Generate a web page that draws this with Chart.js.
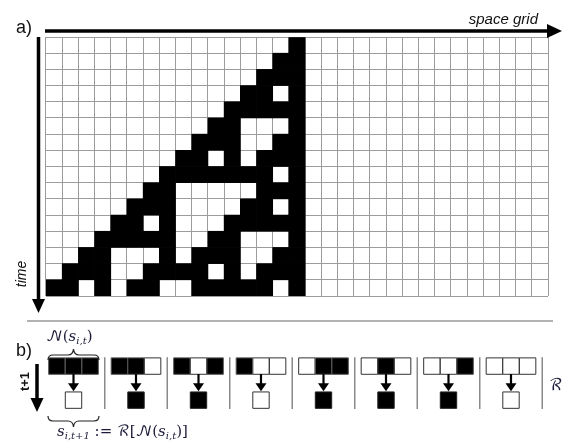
<!DOCTYPE html>
<html>
<head>
<meta charset="utf-8">
<script src="https://cdn.jsdelivr.net/npm/chart.js@4/dist/chart.umd.min.js"></script>
<style>
  body { margin: 0; background: #fff; width: 563px; height: 441px; position: relative; overflow: hidden; font-family: "Liberation Sans", Arial, sans-serif; }
  .box { position: absolute; }
  .lbl { position: absolute; color: #111; white-space: nowrap; }
  .math { font-family: "DejaVu Serif", "Liberation Serif", serif; color: #1c1c3a; font-size: 13px; }
  .math i { font-style: italic; }
  .math sub { font-size: 10px; vertical-align: -3px; }
  .cal { font-family: "DejaVu Math TeX Gyre", "DejaVu Serif", serif; font-style: normal; }
  svg { position: absolute; left: 0; top: 0; }
</style>
</head>
<body>
<div class="box" style="left:45px;top:36px;width:504px;height:261px"><canvas id="gridCanvas" width="504" height="261"></canvas></div>
<div class="box" style="left:0px;top:330px;width:563px;height:111px"><canvas id="ruleCanvas" width="563" height="111"></canvas></div>

<svg width="563" height="441">
  <!-- space arrow -->
  <line x1="45" y1="31" x2="549" y2="31" stroke="#000" stroke-width="3.5"/>
  <polygon points="547,24 562,31 547,38" fill="#000"/>
  <!-- time arrow -->
  <line x1="38.5" y1="37" x2="38.5" y2="300" stroke="#000" stroke-width="3.5"/>
  <polygon points="32,299 38.5,313 45,299" fill="#000"/>
  <!-- separator -->
  <line x1="27" y1="321" x2="553" y2="321" stroke="#999" stroke-width="1.5"/>
  <!-- t+1 arrow -->
  <line x1="37" y1="364" x2="37" y2="400" stroke="#000" stroke-width="3.5"/>
  <polygon points="30.5,398 37,412 43.5,398" fill="#000"/>
  <!-- braces -->
  <path d="M48,360 Q48,355 53,355 L68,355 Q73,355 73.5,349 Q74,355 79,355 L94,355 Q99,355 99,360" fill="none" stroke="#222" stroke-width="1.2"/>
  <path d="M48,416 Q48,421 53,421 L68,421 Q73,421 73.5,427 Q74,421 79,421 L94,421 Q99,421 99,416" fill="none" stroke="#222" stroke-width="1.2"/>
</svg>

<div class="lbl" style="left:16px;top:17px;font-size:18px">a)</div>
<div class="lbl" style="left:16px;top:340px;font-size:18px">b)</div>
<div class="lbl" style="right:25px;top:10px;font-size:15px;font-style:italic">space grid</div>
<div class="lbl" style="left:8px;top:266px;font-size:14px;font-style:italic;transform:rotate(-90deg);transform-origin:center">time</div>
<div class="lbl" style="left:15px;top:374px;font-size:13px;font-weight:bold;transform:rotate(-90deg);transform-origin:center">t+1</div>
<div class="lbl math" style="left:46px;top:327px;font-size:15px"><span class="cal">𝒩</span>(<i>s</i><sub><i>i,t</i></sub>)</div>
<div class="lbl math" style="left:57px;top:422px;font-size:15px"><i>s</i><sub><i>i,t+1</i></sub> := <span class="cal">ℛ</span>[<span class="cal">𝒩</span>(<i>s</i><sub><i>i,t</i></sub>)]</div>
<div class="lbl math" style="left:549px;top:375px;font-size:16px"><span class="cal">ℛ</span></div>

<script>
// space grid, 31 cells wide, 16 time steps (1 = black)
var nCols = 31;
var gridRows = [
    '0000000000000001000000000000000',
    '0000000000000011000000000000000',
    '0000000000000111000000000000000',
    '0000000000001101000000000000000',
    '0000000000011111000000000000000',
    '0000000000110001000000000000000',
    '0000000001110011000000000000000',
    '0000000011010111000000000000000',
    '0000000111111101000000000000000',
    '0000001100000111000000000000000',
    '0000011100001101000000000000000',
    '0000110100011111000000000000000',
    '0001111100110001000000000000000',
    '0011000101110011000000000000000',
    '0111001111010111000000000000000',
    '1101011001111101000000000000000'
];

// rule table (panel b)
var neighbourhoods = ['111', '110', '101', '100', '011', '010', '001', '000'];
var ruleOutputs = [0, 1, 1, 0, 1, 1, 1, 0];

var colLabels = [];
for (var c = 0; c < nCols; c++) colLabels.push(c);

var gridSets = gridRows.map(function (row, r) {
    var vals = [];
    for (var c = 0; c < nCols; c++) {
        vals.push(row.charAt(c) === '1' ? [r, r + 1] : null);
    }
    return {
        label: 't' + r,
        data: vals,
        backgroundColor: '#000',
        borderWidth: 0,
        grouped: false,
        barPercentage: 1,
        categoryPercentage: 1
    };
});

new Chart(document.getElementById('gridCanvas'), {
    type: 'bar',
    data: { labels: colLabels, datasets: gridSets },
    options: {
        responsive: false,
        animation: false,
        devicePixelRatio: 1,
        layout: { padding: 1 },
        plugins: { legend: { display: false }, tooltip: { enabled: false } },
        scales: {
            x: {
                ticks: { display: false },
                grid: { offset: true, drawTicks: false, color: '#9c9c9c', lineWidth: 1 },
                border: { display: false }
            },
            y: {
                min: 0, max: gridRows.length, reverse: true,
                ticks: { display: false, stepSize: 1 },
                grid: { drawTicks: false, color: '#9c9c9c', lineWidth: 1 },
                border: { display: false }
            }
        }
    }
});

// rule table cells
var cellStep = 0.266;
var onPts = [], offPts = [], resOn = [], resOff = [];
neighbourhoods.forEach(function (nb, g) {
    for (var j = 0; j < 3; j++) {
        var p = { x: g + (j - 1) * cellStep, y: 0 };
        if (nb.charAt(j) === '1') onPts.push(p); else offPts.push(p);
    }
    if (ruleOutputs[g]) resOn.push({ x: g, y: 1 }); else resOff.push({ x: g, y: 1 });
});

function cellSet(pts, fill, edge) {
    return {
        data: pts,
        pointStyle: 'rect',
        pointRadius: 11.6,
        backgroundColor: fill,
        borderColor: edge,
        borderWidth: 1
    };
}

var ruleDecor = {
    id: 'ruleDecor',
    afterDatasetsDraw: function (chart) {
        var ctx = chart.ctx, xs = chart.scales.x, ys = chart.scales.y;
        ctx.save();
        // separators
        ctx.strokeStyle = '#8a8a8a';
        ctx.lineWidth = 1.5;
        for (var g = 0; g < neighbourhoods.length; g++) {
            var sx = xs.getPixelForValue(g + 0.5);
            ctx.beginPath();
            ctx.moveTo(sx, ys.getPixelForValue(-0.26));
            ctx.lineTo(sx, ys.getPixelForValue(1.26));
            ctx.stroke();
        }
        // arrows
        ctx.fillStyle = '#000';
        ctx.strokeStyle = '#000';
        ctx.lineWidth = 2.2;
        for (var g = 0; g < neighbourhoods.length; g++) {
            var ax = xs.getPixelForValue(g);
            var top = ys.getPixelForValue(0) + 8;
            var tip = ys.getPixelForValue(1) - 9;
            ctx.beginPath();
            ctx.moveTo(ax, top);
            ctx.lineTo(ax, tip - 6);
            ctx.stroke();
            ctx.beginPath();
            ctx.moveTo(ax - 5.5, tip - 8);
            ctx.lineTo(ax + 5.5, tip - 8);
            ctx.lineTo(ax, tip);
            ctx.closePath();
            ctx.fill();
        }
        ctx.restore();
    }
};

new Chart(document.getElementById('ruleCanvas'), {
    type: 'scatter',
    data: {
        datasets: [
            cellSet(onPts, '#000', '#555'),
            cellSet(offPts, '#fff', '#333'),
            cellSet(resOn, '#000', '#222'),
            cellSet(resOff, '#fff', '#333')
        ]
    },
    options: {
        responsive: false,
        animation: false,
        devicePixelRatio: 1,
        layout: { padding: 0, autoPadding: false },
        plugins: { legend: { display: false }, tooltip: { enabled: false } },
        scales: {
            x: { type: 'linear', min: -1.176, max: 7.832, display: false },
            y: { type: 'linear', min: -1.06, max: 2.2, reverse: true, display: false }
        }
    },
    plugins: [ruleDecor]
});
</script>
</body>
</html>
